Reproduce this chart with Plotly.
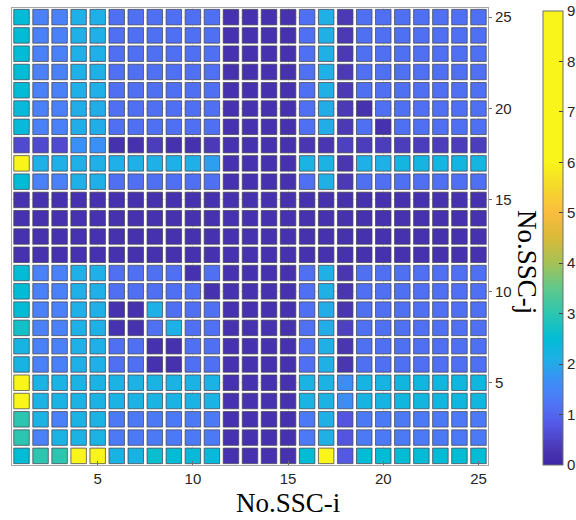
import plotly.graph_objects as go

ssc_i = list(range(1, 26))
ssc_j = list(range(1, 26))
x_ticks = [5, 10, 15, 20, 25]
y_ticks = [5, 10, 15, 20, 25]
cbar_ticks = [0, 1, 2, 3, 4, 5, 6, 7, 8, 9]

# values[j-1][i-1], rows from j=1 (bottom) to j=25 (top)
values = [
    [2.5, 3.0, 3.0, 7.0, 7.0, 2.2, 2.2, 2.6, 2.5, 2.4, 2.4, 0.2, 0.2, 0.2, 0.2, 2.5, 7.0, 0.8, 2.5, 2.5, 2.5, 2.5, 2.5, 2.5, 2.5],
    [3.0, 1.4, 2.15, 2.15, 2.15, 1.3, 1.3, 1.3, 1.3, 1.3, 1.3, 0.2, 0.2, 0.2, 0.2, 1.3, 2.1, 0.75, 1.3, 1.3, 1.3, 1.3, 1.3, 1.3, 1.3],
    [3.0, 2.15, 1.4, 2.15, 2.15, 1.3, 1.3, 1.3, 1.3, 1.3, 1.3, 0.2, 0.2, 0.2, 0.2, 1.3, 2.1, 0.75, 1.3, 1.3, 1.3, 1.3, 1.3, 1.3, 1.3],
    [7.0, 2.15, 2.15, 2.15, 2.15, 2.15, 2.15, 2.15, 2.15, 2.15, 2.15, 0.2, 0.2, 0.2, 0.2, 2.15, 2.15, 1.65, 2.2, 2.2, 2.3, 2.3, 2.3, 2.3, 2.3],
    [7.0, 2.15, 2.15, 2.15, 2.15, 2.15, 2.15, 2.15, 2.15, 2.15, 2.15, 0.2, 0.2, 0.2, 0.2, 2.15, 2.15, 1.65, 2.2, 2.2, 2.3, 2.3, 2.3, 2.3, 2.3],
    [2.2, 1.4, 1.4, 2.1, 2.1, 1.15, 1.15, 0.2, 0.2, 1.15, 1.15, 0.2, 0.2, 0.2, 0.2, 1.15, 2.1, 0.3, 1.15, 1.15, 1.15, 1.15, 1.15, 1.15, 1.15],
    [2.2, 1.4, 1.4, 2.1, 2.1, 1.15, 1.15, 0.2, 0.2, 1.15, 1.15, 0.2, 0.2, 0.2, 0.2, 1.15, 2.1, 0.3, 1.15, 1.15, 1.15, 1.15, 1.15, 1.15, 1.15],
    [2.7, 1.4, 1.4, 2.1, 2.1, 0.2, 0.2, 1.15, 2.1, 1.15, 1.15, 0.2, 0.2, 0.2, 0.2, 1.15, 2.05, 0.45, 1.15, 1.15, 1.15, 1.15, 1.15, 1.15, 1.15],
    [2.5, 1.4, 1.4, 2.1, 2.1, 0.2, 0.2, 2.1, 1.15, 1.15, 1.15, 0.2, 0.2, 0.2, 0.2, 1.15, 2.05, 0.3, 1.15, 1.15, 1.15, 1.15, 1.15, 1.15, 1.15],
    [2.5, 1.4, 1.4, 2.1, 2.1, 1.15, 1.15, 1.15, 1.15, 1.15, 0.2, 0.2, 0.2, 0.2, 0.2, 1.15, 2.1, 0.3, 1.15, 1.15, 1.15, 1.15, 1.15, 1.15, 1.15],
    [2.5, 1.4, 1.4, 2.1, 2.1, 1.15, 1.15, 1.15, 1.15, 0.2, 1.15, 0.2, 0.2, 0.2, 0.2, 1.15, 2.1, 0.3, 1.15, 1.15, 1.15, 1.15, 1.15, 1.15, 1.15],
    [0.2, 0.2, 0.2, 0.2, 0.2, 0.2, 0.2, 0.2, 0.2, 0.2, 0.2, 0.2, 0.2, 0.2, 0.2, 0.2, 0.2, 0.2, 0.2, 0.2, 0.2, 0.2, 0.2, 0.2, 0.2],
    [0.2, 0.2, 0.2, 0.2, 0.2, 0.2, 0.2, 0.2, 0.2, 0.2, 0.2, 0.2, 0.2, 0.2, 0.2, 0.2, 0.2, 0.2, 0.2, 0.2, 0.2, 0.2, 0.2, 0.2, 0.2],
    [0.2, 0.2, 0.2, 0.2, 0.2, 0.2, 0.2, 0.2, 0.2, 0.2, 0.2, 0.2, 0.2, 0.2, 0.2, 0.2, 0.2, 0.2, 0.2, 0.2, 0.2, 0.2, 0.2, 0.2, 0.2],
    [0.2, 0.2, 0.2, 0.2, 0.2, 0.2, 0.2, 0.2, 0.2, 0.2, 0.2, 0.2, 0.2, 0.2, 0.2, 0.2, 0.2, 0.2, 0.2, 0.2, 0.2, 0.2, 0.2, 0.2, 0.2],
    [2.5, 1.4, 1.4, 2.1, 2.1, 1.15, 1.15, 1.15, 1.15, 1.15, 1.15, 0.2, 0.2, 0.2, 0.2, 1.15, 2.1, 0.35, 1.15, 1.15, 1.15, 1.15, 1.15, 1.15, 1.15],
    [7.0, 2.1, 2.1, 2.1, 2.1, 2.1, 2.1, 2.1, 2.1, 2.1, 1.9, 0.2, 0.2, 0.2, 0.2, 2.15, 2.15, 0.3, 2.1, 2.1, 2.25, 2.25, 2.25, 2.25, 2.25],
    [0.6, 0.6, 0.6, 1.7, 1.7, 0.2, 0.2, 0.4, 0.2, 0.2, 0.35, 0.2, 0.2, 0.2, 0.2, 0.3, 0.3, 0.45, 0.4, 0.4, 0.4, 0.4, 0.4, 0.4, 0.4],
    [2.4, 1.4, 1.4, 2.05, 2.05, 1.15, 1.15, 1.15, 1.15, 1.15, 1.15, 0.2, 0.2, 0.2, 0.2, 1.15, 2.05, 0.35, 1.15, 0.2, 1.15, 1.15, 1.15, 1.15, 1.15],
    [2.4, 1.4, 1.4, 2.05, 2.05, 1.15, 1.15, 1.15, 1.15, 1.15, 1.15, 0.2, 0.2, 0.2, 0.2, 1.15, 2.05, 0.35, 0.2, 1.15, 1.15, 1.15, 1.15, 1.15, 1.15],
    [2.5, 1.4, 1.4, 2.1, 2.1, 1.15, 1.15, 1.15, 1.15, 1.15, 1.15, 0.2, 0.2, 0.2, 0.2, 1.15, 2.1, 0.35, 1.15, 1.15, 1.15, 1.15, 1.15, 1.15, 1.15],
    [2.5, 1.4, 1.4, 2.1, 2.1, 1.15, 1.15, 1.15, 1.15, 1.15, 1.15, 0.2, 0.2, 0.2, 0.2, 1.15, 2.1, 0.35, 1.15, 1.15, 1.15, 1.15, 1.15, 1.15, 1.15],
    [2.5, 1.4, 1.4, 2.1, 2.1, 1.15, 1.15, 1.15, 1.15, 1.15, 1.15, 0.2, 0.2, 0.2, 0.2, 1.15, 2.1, 0.35, 1.15, 1.15, 1.15, 1.15, 1.15, 1.15, 1.15],
    [2.5, 1.4, 1.4, 2.1, 2.1, 1.15, 1.15, 1.15, 1.15, 1.15, 1.15, 0.2, 0.2, 0.2, 0.2, 1.15, 2.1, 0.35, 1.15, 1.15, 1.15, 1.15, 1.15, 1.15, 1.15],
    [2.5, 1.4, 1.4, 2.1, 2.1, 1.15, 1.15, 1.15, 1.15, 1.15, 1.15, 0.2, 0.2, 0.2, 0.2, 1.15, 2.1, 0.35, 1.15, 1.15, 1.15, 1.15, 1.15, 1.15, 1.15],
]

CMAX = 9.0
stops = [
    (0.0, "#3e26a8"), (0.3, "#4a36b2"), (0.8, "#5458e6"), (1.15, "#5070f4"),
    (1.4, "#4a80f8"), (1.7, "#3a90f6"), (2.1, "#1eb0e6"), (2.5, "#02bcd6"),
    (3.0, "#2cc6b0"), (3.5, "#60c88c"), (4.0, "#a4c256"), (4.5, "#d8ba38"),
    (5.0, "#fbbc3e"), (5.5, "#f4d82c"), (6.0, "#f9f41a"), (9.0, "#f9f41a"),
]
colorscale = [[v / CMAX, c] for v, c in stops]

xs, ys, cs = [], [], []
for jj, row in zip(ssc_j, values):
    for ii, v in zip(ssc_i, row):
        xs.append(ii)
        ys.append(jj)
        cs.append(v)

W, H = 576, 520
ml, mr, mt, mb = 12, 88, 8, 55
pw = W - ml - mr
ph = H - mt - mb

fig = go.Figure()
fig.add_trace(go.Scatter(
    x=xs, y=ys, mode="markers", hoverinfo="skip",
    marker=dict(
        symbol="square", size=15.5, color=cs,
        colorscale=colorscale, cmin=0, cmax=CMAX,
        line=dict(color="rgba(70,70,80,0.75)", width=1),
        colorbar=dict(
            x=(543 - ml) / pw, xanchor="left", xpad=0,
            y=1 - (11 - mt) / ph, yanchor="top", ypad=0,
            lenmode="pixels", len=454, thickness=20,
            outlinewidth=1, outlinecolor="#6e6e6e",
            tickmode="array", tickvals=cbar_ticks,
            ticks="inside", ticklen=4, tickcolor="#444444",
            tickfont=dict(family="Liberation Sans", size=15, color="#262626"),
        ),
    ),
))

axis_common = dict(
    showline=True, mirror=True, linecolor="#a6a6a6", linewidth=1,
    showgrid=True, gridcolor="#e3e3e3", gridwidth=1, zeroline=False,
    tickfont=dict(family="Liberation Sans", size=15, color="#262626"),
    tickcolor="#6e6e6e", automargin=False,
)
fig.update_xaxes(range=[0.5, 25.5], tickmode="array", tickvals=x_ticks,
                 ticks="inside", ticklen=4, **axis_common)
fig.update_yaxes(range=[0.5, 25.5], tickmode="array", tickvals=y_ticks,
                 side="right", ticks="outside", ticklen=3, **axis_common)

fig.add_annotation(text="No.SSC-i", xref="paper", yref="paper",
                   x=(288 - ml) / pw, y=-(503 - (H - mb)) / ph,
                   xanchor="center", yanchor="middle", showarrow=False,
                   font=dict(family="Liberation Serif", size=27, color="#000000"))
fig.add_annotation(text="No.SSC-j", xref="paper", yref="paper",
                   x=(527 - ml) / pw, y=((H - mb) - 262) / ph,
                   xanchor="center", yanchor="middle", showarrow=False, textangle=90,
                   font=dict(family="Liberation Serif", size=27, color="#000000"))

fig.update_layout(
    width=W, height=H, margin=dict(l=ml, r=mr, t=mt, b=mb, autoexpand=False),
    paper_bgcolor="white", plot_bgcolor="white", showlegend=False,
)
fig.write_html("out.html")
